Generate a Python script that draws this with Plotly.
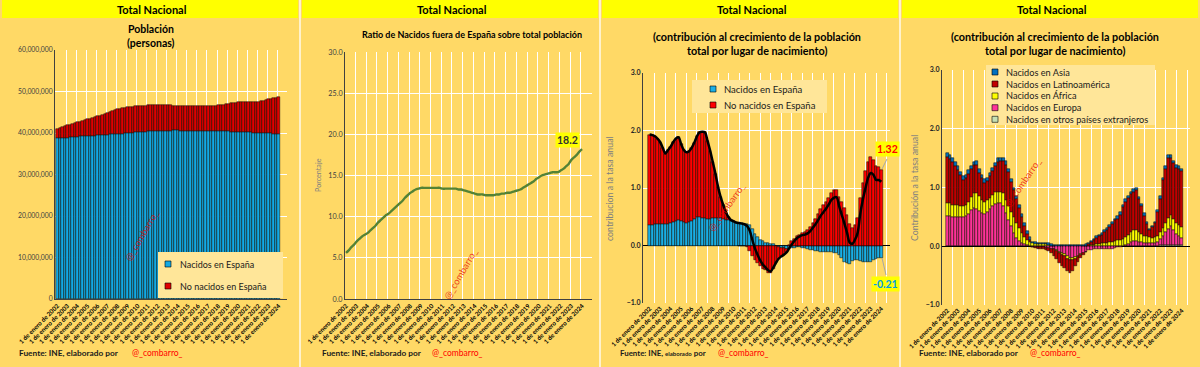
import plotly.graph_objects as go

W, H = 1200, 367
FONT = "Lato"

# ---------------- categories ----------------
meses = ["enero", "abril", "julio", "octubre"]
anios = list(range(2002, 2025))
trimestres = [f"1 de {m} de {a}" for a in anios for m in meses][:89]

# ---------------- panel 1: población (millones de personas) ----------------
nacidos_espana = [
    38.74, 38.81, 38.83, 38.89, 38.90, 38.94, 38.98, 39.06, 39.15, 39.19, 39.23, 39.27,
    39.27, 39.31, 39.34, 39.37, 39.43, 39.47, 39.51, 39.55, 39.59, 39.65, 39.66, 39.72,
    39.78, 39.82, 39.85, 39.92, 40.00, 40.05, 40.11, 40.16, 40.21, 40.25, 40.29, 40.33,
    40.42, 40.45, 40.49, 40.51, 40.55, 40.57, 40.58, 40.59, 40.60, 40.60, 40.61, 40.61,
    40.61, 40.60, 40.59, 40.58, 40.59, 40.58, 40.57, 40.56, 40.55, 40.55, 40.54, 40.53,
    40.52, 40.51, 40.49, 40.47, 40.46, 40.44, 40.42, 40.40, 40.38, 40.36, 40.33, 40.31,
    40.30, 40.26, 40.23, 40.19, 40.15, 40.13, 40.11, 40.09, 40.07, 40.03, 40.00, 39.97,
    39.95, 39.92, 39.88, 39.85, 39.82]
no_nacidos = [
    2.30, 2.43, 2.61, 2.75, 2.93, 3.07, 3.21, 3.31, 3.40, 3.55, 3.69, 3.84,
    4.03, 4.17, 4.32, 4.47, 4.58, 4.73, 4.88, 5.04, 5.19, 5.35, 5.56, 5.73,
    5.89, 6.00, 6.11, 6.18, 6.24, 6.25, 6.26, 6.27, 6.28, 6.28, 6.29, 6.29,
    6.25, 6.26, 6.26, 6.27, 6.27, 6.23, 6.20, 6.16, 6.13, 6.07, 6.00, 5.95,
    5.89, 5.89, 5.88, 5.88, 5.86, 5.87, 5.87, 5.88, 5.89, 5.91, 5.94, 5.97,
    6.01, 6.05, 6.10, 6.15, 6.20, 6.31, 6.42, 6.54, 6.65, 6.77, 6.91, 7.04,
    7.15, 7.18, 7.19, 7.22, 7.25, 7.27, 7.31, 7.36, 7.42, 7.60, 7.78, 7.97,
    8.14, 8.31, 8.49, 8.64, 8.80]

# ---------------- panel 2: ratio (%) ----------------
ratio_no_nacidos = [
    5.6, 5.9, 6.3, 6.6, 7.0, 7.3, 7.6, 7.8, 8.0, 8.3, 8.6, 8.9,
    9.3, 9.6, 9.9, 10.2, 10.4, 10.7, 11.0, 11.3, 11.6, 11.9, 12.3, 12.6,
    12.9, 13.1, 13.3, 13.4, 13.5, 13.5, 13.5, 13.5, 13.5, 13.5, 13.5, 13.5,
    13.4, 13.4, 13.4, 13.4, 13.4, 13.4, 13.3, 13.3, 13.2, 13.1, 13.0, 12.9,
    12.8, 12.7, 12.7, 12.7, 12.6, 12.6, 12.6, 12.6, 12.7, 12.7, 12.8, 12.8,
    12.9, 12.9, 13.0, 13.1, 13.2, 13.3, 13.5, 13.7, 13.9, 14.1, 14.3, 14.6,
    14.8, 15.0, 15.1, 15.2, 15.3, 15.4, 15.4, 15.4, 15.6, 15.8, 16.1, 16.4,
    16.9, 17.2, 17.5, 17.9, 18.2]

# ---------------- panel 3: contribución por lugar de nacimiento ----------------
contrib_espana = [
    0.35, 0.36, 0.37, 0.37, 0.37, 0.37, 0.38, 0.38, 0.40, 0.41, 0.43, 0.44,
    0.43, 0.41, 0.40, 0.41, 0.43, 0.46, 0.49, 0.49, 0.48, 0.47, 0.46, 0.46,
    0.47, 0.47, 0.48, 0.48, 0.46, 0.45, 0.44, 0.43, 0.41, 0.40, 0.40, 0.39,
    0.38, 0.37, 0.35, 0.29, 0.20, 0.14, 0.10, 0.07, 0.05, 0.04, 0.03, 0.02,
    0.00, -0.02, -0.04, -0.05, -0.06, -0.06, -0.05, -0.04, -0.03, -0.03, -0.04, -0.05,
    -0.06, -0.07, -0.08, -0.09, -0.10, -0.11, -0.12, -0.12, -0.12, -0.12, -0.13, -0.13,
    -0.16, -0.22, -0.28, -0.31, -0.33, -0.27, -0.26, -0.25, -0.27, -0.28, -0.29, -0.28,
    -0.28, -0.26, -0.24, -0.22, -0.21]
contrib_no_nacidos = [
    1.58, 1.56, 1.53, 1.49, 1.43, 1.33, 1.22, 1.28, 1.32, 1.39, 1.43, 1.44,
    1.33, 1.25, 1.22, 1.23, 1.27, 1.33, 1.41, 1.48, 1.50, 1.50, 1.36, 1.19,
    0.98, 0.78, 0.54, 0.36, 0.24, 0.13, 0.05, 0.01, 0.01, 0.00, -0.01, -0.01,
    -0.01, -0.03, -0.09, -0.19, -0.25, -0.30, -0.36, -0.40, -0.43, -0.47, -0.48, -0.40,
    -0.30, -0.21, -0.15, -0.11, -0.06, 0.01, 0.07, 0.12, 0.16, 0.19, 0.22, 0.24,
    0.27, 0.32, 0.39, 0.46, 0.54, 0.63, 0.70, 0.76, 0.83, 0.91, 0.96, 0.97,
    0.84, 0.75, 0.66, 0.53, 0.38, 0.30, 0.36, 0.47, 0.82, 1.08, 1.29, 1.46,
    1.54, 1.49, 1.38, 1.36, 1.32]

# ---------------- panel 4: contribución por región de nacimiento ----------------
asia = [
    0.06, 0.06, 0.06, 0.06, 0.06, 0.06, 0.06, 0.06, 0.06, 0.06, 0.06, 0.06,
    0.06, 0.06, 0.06, 0.06, 0.06, 0.06, 0.06, 0.06, 0.06, 0.06, 0.06, 0.06,
    0.05, 0.05, 0.05, 0.05, 0.05, 0.05, 0.05, 0.05, 0.03, 0.03, 0.03, 0.03,
    0.03, 0.03, 0.03, 0.03, 0.02, 0.02, 0.02, 0.02, 0.02, 0.02, 0.02, 0.02,
    0.02, 0.02, 0.02, 0.02, 0.02, 0.02, 0.02, 0.02, 0.03, 0.03, 0.03, 0.03,
    0.03, 0.03, 0.03, 0.03, 0.04, 0.04, 0.04, 0.04, 0.04, 0.04, 0.04, 0.04,
    0.04, 0.04, 0.04, 0.04, 0.03, 0.03, 0.03, 0.03, 0.04, 0.04, 0.04, 0.04,
    0.04, 0.04, 0.04, 0.04, 0.04]
latam = [
    0.79, 0.76, 0.73, 0.67, 0.60, 0.53, 0.45, 0.46, 0.47, 0.47, 0.47, 0.48,
    0.40, 0.37, 0.33, 0.33, 0.37, 0.41, 0.44, 0.51, 0.52, 0.55, 0.60, 0.58,
    0.51, 0.46, 0.41, 0.34, 0.27, 0.19, 0.11, 0.03, -0.01, -0.02, -0.02, -0.02,
    -0.03, -0.03, -0.05, -0.08, -0.12, -0.14, -0.16, -0.18, -0.20, -0.21, -0.22, -0.18,
    -0.12, -0.07, -0.05, -0.04, -0.01, 0.02, 0.05, 0.09, 0.10, 0.13, 0.15, 0.19,
    0.22, 0.26, 0.30, 0.35, 0.37, 0.43, 0.53, 0.60, 0.62, 0.64, 0.65, 0.67,
    0.55, 0.47, 0.34, 0.21, 0.12, 0.18, 0.24, 0.41, 0.57, 0.82, 0.92, 1.03,
    0.97, 0.94, 0.95, 0.96, 0.96]
africa = [
    0.22, 0.22, 0.21, 0.20, 0.20, 0.19, 0.19, 0.19, 0.21, 0.23, 0.26, 0.27,
    0.25, 0.22, 0.20, 0.19, 0.18, 0.19, 0.20, 0.20, 0.20, 0.21, 0.23, 0.24,
    0.25, 0.27, 0.26, 0.22, 0.17, 0.12, 0.08, 0.06, 0.05, 0.04, 0.03, 0.03,
    0.03, 0.03, 0.02, 0.01, 0.00, -0.01, -0.02, -0.03, -0.03, -0.04, -0.04, -0.04,
    -0.03, -0.02, -0.01, 0.00, 0.01, 0.01, 0.02, 0.02, 0.03, 0.03, 0.04, 0.04,
    0.05, 0.06, 0.07, 0.08, 0.09, 0.10, 0.12, 0.14, 0.16, 0.18, 0.19, 0.19,
    0.17, 0.14, 0.12, 0.11, 0.10, 0.09, 0.09, 0.10, 0.12, 0.14, 0.16, 0.18,
    0.20, 0.19, 0.18, 0.18, 0.18]
europa = [
    0.50, 0.50, 0.49, 0.49, 0.49, 0.48, 0.48, 0.50, 0.54, 0.60, 0.64, 0.63,
    0.59, 0.56, 0.54, 0.58, 0.63, 0.67, 0.71, 0.72, 0.72, 0.68, 0.55, 0.43,
    0.33, 0.21, 0.13, 0.08, 0.05, 0.03, 0.01, 0.00, -0.01, -0.01, -0.02, -0.02,
    -0.02, -0.03, -0.03, -0.04, -0.05, -0.07, -0.10, -0.12, -0.14, -0.17, -0.20, -0.20,
    -0.19, -0.17, -0.14, -0.11, -0.09, -0.07, -0.06, -0.05, -0.05, -0.04, -0.04, -0.04,
    -0.04, -0.04, -0.04, -0.03, -0.02, -0.01, 0.00, 0.01, 0.03, 0.06, 0.08, 0.08,
    0.07, 0.06, 0.05, 0.05, 0.04, 0.04, 0.05, 0.07, 0.10, 0.15, 0.22, 0.28,
    0.32, 0.26, 0.19, 0.16, 0.12]
otros = [
    0.01, 0.01, 0.01, 0.01, 0.01, 0.01, 0.01, 0.01, 0.01, 0.01, 0.01, 0.01,
    0.01, 0.01, 0.01, 0.01, 0.01, 0.01, 0.01, 0.01, 0.01, 0.01, 0.01, 0.01,
    0.01, 0.01, 0.01, 0.01, 0.01, 0.01, 0.01, 0.01, 0.00, 0.00, 0.00, 0.00,
    0.00, 0.00, 0.00, 0.00, 0.00, 0.00, 0.00, 0.00, 0.00, 0.00, 0.00, 0.00,
    0.00, 0.00, 0.00, 0.00, 0.00, 0.00, 0.00, 0.00, 0.01, 0.01, 0.01, 0.01,
    0.01, 0.01, 0.01, 0.01, 0.01, 0.01, 0.01, 0.01, 0.01, 0.01, 0.01, 0.01,
    0.01, 0.01, 0.01, 0.01, 0.01, 0.01, 0.01, 0.01, 0.02, 0.02, 0.02, 0.02,
    0.02, 0.02, 0.02, 0.02, 0.02]

# ---------------- colours ----------------
BG = "#FFD966"
HEADER = "#FFFF00"
LEG_BG = "#FFE699"
GRID = "#FFFFFF"
C_ESP = "#13A9E3"
C_NO1 = "#E00000"
C_NO3 = "#FF0000"
C_ASIA = "#0070C0"
C_LAT = "#C00000"
C_AFR = "#FFFF00"
C_EUR = "#FF3399"
C_OTR = "#C6E0B4"
C_LINE2 = "#548235"

idx = list(range(len(trimestres)))
tick_idx = [i for i in idx if i % 4 == 0]
tick_txt = [trimestres[i] for i in tick_idx]
total_contrib = [a + b for a, b in zip(contrib_espana, contrib_no_nacidos)]
mill = [v * 1e6 for v in nacidos_espana]
mill_no = [v * 1e6 for v in no_nacidos]


def X(px):
    return px / W


def Y(py):
    return 1 - py / H


fig = go.Figure()
line_kw = dict(color="#000000", width=0.5)

# panel 1
fig.add_bar(x=idx, y=mill, marker=dict(color=C_ESP, line=line_kw), name="Nacidos en España",
            xaxis="x", yaxis="y", width=1)
fig.add_bar(x=idx, y=mill_no, marker=dict(color=C_NO1, line=line_kw), name="No nacidos en España",
            xaxis="x", yaxis="y", width=1)
# panel 2
fig.add_scatter(x=idx, y=ratio_no_nacidos, mode="lines", line=dict(color=C_LINE2, width=2.4, shape="spline"),
                name="Ratio", xaxis="x2", yaxis="y2")
# panel 3
fig.add_bar(x=idx, y=contrib_espana, marker=dict(color="#1AAFE6", line=line_kw), name="Nacidos en España",
            xaxis="x3", yaxis="y3", width=1)
fig.add_bar(x=idx, y=contrib_no_nacidos, marker=dict(color=C_NO3, line=line_kw), name="No nacidos en España",
            xaxis="x3", yaxis="y3", width=1)
fig.add_scatter(x=idx, y=total_contrib, mode="lines", line=dict(color="#000000", width=2.5, shape="spline"),
                name="Total", xaxis="x3", yaxis="y3")
# panel 4 (stack bottom -> top)
for serie, col, nom in [(otros, C_OTR, "Nacidos en otros países extranjeros"),
                        (europa, C_EUR, "Nacidos en Europa"),
                        (africa, C_AFR, "Nacidos en África"),
                        (latam, C_LAT, "Nacidos en Latinoamérica"),
                        (asia, C_ASIA, "Nacidos en Asia")]:
    fig.add_bar(x=idx, y=serie, marker=dict(color=col, line=line_kw), name=nom,
                xaxis="x4", yaxis="y4", width=1)

# ---------------- axes ----------------
panels = {
    "": (55, 287, 50, 299, [-0.91, 91.3], [4 * k + 3.5 for k in range(23)]),
    "2": (345, 592, 52, 299, [-0.37, 91.7], [4 * k + 3.5 for k in range(23)]),
    "3": (643, 890, 73, 303, [-2.5, 91.3], [4 * k + 2 for k in range(23)]),
    "4": (942, 1190, 70, 305, [-2.0, 91.1], [4 * k + 2 for k in range(23)]),
}
layout_axes = {}
for k, (x0, x1, yt, yb, xr, grid) in panels.items():
    layout_axes["xaxis" + k] = dict(
        domain=[X(x0), X(x1)], range=xr, anchor="y" + k, automargin=False,
        tickmode="array", tickvals=tick_idx, ticktext=tick_txt, tickangle=-45,
        tickfont=dict(family=FONT, size=6.2, color="#000000", weight="bold"),
        showgrid=False, zeroline=False, showline=(k in ("", "2")), linecolor="#404040", linewidth=1,
        ticks="", minor=dict(tickvals=grid, showgrid=True, gridcolor=GRID, gridwidth=1.2, ticks=""),
        fixedrange=True,
    )
    layout_axes["yaxis" + k] = dict(
        domain=[Y(yb), Y(yt)], anchor="x" + k, showgrid=True, gridcolor=GRID, gridwidth=1.2,
        showline=True, linecolor="#404040", linewidth=1, ticks="", fixedrange=True,
        zeroline=False, automargin=False,
    )

layout_axes["yaxis"].update(range=[0, 60e6], dtick=10e6, tickformat=",d",
                            tickfont=dict(family=FONT, size=6.8, color="#404040"))
layout_axes["yaxis2"].update(range=[0, 30], dtick=5, tickformat=".1f",
                             tickfont=dict(family=FONT, size=7.2, color="#404040"))
for k in ("3", "4"):
    layout_axes["yaxis" + k].update(range=[-1, 3], dtick=1, tickformat=".1f",
                                    zeroline=True, zerolinecolor="#000000", zerolinewidth=1.2,
                                    tickfont=dict(family=FONT, size=7, color="#262626", weight="bold"))

# ---------------- shapes ----------------
shapes = []
annotations = []


def rect(x0, y0, x1, y1, fill, line_color=None, lw=0):
    shapes.append(dict(type="rect", xref="paper", yref="paper", x0=X(x0), x1=X(x1), y0=Y(y1), y1=Y(y0),
                       fillcolor=fill, line=dict(color=line_color or fill, width=lw), layer="above"))


def seg(x0, y0, x1, y1, color, w=1):
    shapes.append(dict(type="line", xref="paper", yref="paper", x0=X(x0), x1=X(x1), y0=Y(y0), y1=Y(y1),
                       line=dict(color=color, width=w), layer="above"))


def txt(x, y, s, size, color="#000000", bold=False, xanchor="center", angle=0, bg=None, family=FONT):
    annotations.append(dict(xref="paper", yref="paper", x=X(x), y=Y(y), text=s, showarrow=False,
                            xanchor=xanchor, yanchor="middle", textangle=angle,
                            font=dict(family=family, size=size, color=color, weight="bold" if bold else "normal"),
                            bgcolor=bg, borderpad=1))


# panel separators and headers
for p in range(4):
    left = 300 * p
    shapes.append(dict(type="rect", xref="paper", yref="paper", x0=X(left + 2), x1=X(left + 298),
                       y0=Y(18), y1=Y(0), fillcolor=HEADER, line=dict(width=0), layer="below"))
    txt(left + 152, 9.5, "Total Nacional", 11, bold=True)
for xs in (300, 600, 900):
    shapes.append(dict(type="line", xref="paper", yref="paper", x0=X(xs), x1=X(xs), y0=0, y1=1,
                       line=dict(color="#FFF2CC", width=2), layer="below"))

# titles
txt(151, 29, "Población", 10.5, bold=True)
txt(151, 43, "(personas)", 10.5, bold=True)
txt(472, 34, "Ratio de Nacidos fuera de España sobre total población", 9, bold=True)
txt(757, 36, "(contribución al crecimiento de la población", 10.8, bold=True)
txt(757, 51, "total por lugar de nacimiento)", 10.8, bold=True)
txt(1055, 36, "(contribución al crecimiento de la población", 10.8, bold=True)
txt(1055, 51, "total por lugar de nacimiento)", 10.8, bold=True)

# y-axis titles
txt(318, 175, "Porcentaje", 7.2, color="#808080", angle=-90)
txt(609, 188, "contribucion a la tasa anual", 8.8, color="#808080", angle=-90)
txt(914, 188, "Contribución a la tasa anual", 8.8, color="#808080", angle=-90)

# legends (drawn)
rect(158, 252, 283, 298, LEG_BG)
for yy, col, lab in [(264, C_ESP, "Nacidos en España"), (286, C_NO1, "No nacidos en España")]:
    rect(165, yy - 3, 171, yy + 3, col, "#000000", 0.6)
    txt(178, yy, lab, 9, color="#1a1a1a", xanchor="left")

rect(692, 80, 827, 113, LEG_BG)
for yy, col, lab in [(89, "#1AAFE6", "Nacidos en España"), (105, C_NO3, "No nacidos en España")]:
    rect(710, yy - 3, 716, yy + 3, col, "#000000", 0.6)
    txt(722, yy, lab, 9.5, color="#1a1a1a", xanchor="left")

rect(986, 65, 1155, 125, LEG_BG)
for yy, col, lab in [(72, C_ASIA, "Nacidos en Asia"), (84, C_LAT, "Nacidos en Latinoamérica"),
                     (96, C_AFR, "Nacidos en África"), (107.7, C_EUR, "Nacidos en Europa"),
                     (119.3, C_OTR, "Nacidos en otros países extranjeros")]:
    rect(992, yy - 3, 998, yy + 3, col, "#000000", 0.6)
    txt(1004, yy, lab, 9.2, color="#1a1a1a", xanchor="left")

# value labels
txt(567, 140, "18.2", 10.5, color="#333333", bold=True, bg=HEADER)
seg(882, 169, 887, 159, "#A6A6A6", 1)
txt(887, 149, "1.32", 10.5, color="#FF0000", bold=True, bg=HEADER)
seg(882, 258, 886, 275, "#A6A6A6", 1)
txt(885, 284, "-0.21", 10.5, color="#00A0E0", bold=True, bg=HEADER)

# watermarks
wm = "rgba(230,0,0,0.75)"
txt(142, 236, "@_combarro_", 9.5, color=wm, angle=-60)
txt(460, 274, "@_combarro_", 9.5, color=wm, angle=-60)
txt(726, 207, "@_combarro_", 9.5, color=wm, angle=-55)
txt(1023, 183, "@_combarro_", 9.5, color=wm, angle=-56)

# footers
for fx, ax_, big in [(17, 130, True), (320, 430, True), (618, 716, False), (917, 1028, True)]:
    if big:
        txt(fx, 353, "Fuente: INE, elaborado por", 8.3, color="#1a1a1a", bold=True, xanchor="left")
    else:
        txt(fx, 353, "Fuente: INE, <span style='font-size:6px'>elaborado</span> por", 7.9,
            color="#1a1a1a", bold=True, xanchor="left")
    txt(ax_, 353, "@_combarro_", 8.5, color="#FF0000", xanchor="left")

fig.update_layout(
    width=W, height=H, margin=dict(l=0, r=0, t=0, b=0, pad=0, autoexpand=False),
    paper_bgcolor=BG, plot_bgcolor="rgba(0,0,0,0)",
    barmode="relative", bargap=0, showlegend=False,
    font=dict(family=FONT), shapes=shapes, annotations=annotations,
    **layout_axes,
)

fig.write_html("out.html", config={"displayModeBar": False},
               post_script="document.body.style.margin='0';")
